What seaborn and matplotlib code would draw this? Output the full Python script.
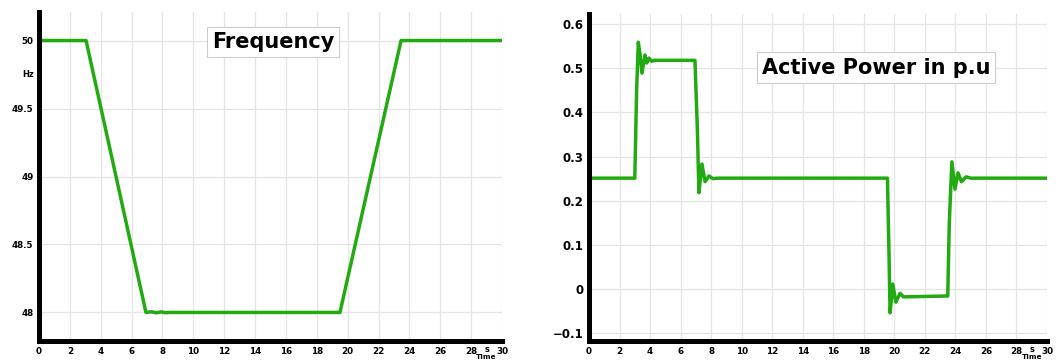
import matplotlib
matplotlib.use("Agg")
import matplotlib.pyplot as plt
import seaborn as sns
import pandas as pd

# ---- data ----
freq_time = [0.0, 3.05, 6.93, 7.3, 7.6, 7.9, 8.2, 8.5, 19.5, 23.46, 30.0]
freq_hz = [50.0, 50.0, 48.0, 48.005, 47.997, 48.004, 47.998, 48.0, 48.0, 50.0, 50.0]

power_time = [0.0, 3.0, 3.12, 3.23, 3.35, 3.47, 3.57, 3.67, 3.78, 3.93, 4.1, 4.3,
              6.94, 7.1, 7.2, 7.3, 7.4, 7.6, 7.86, 8.1, 8.5,
              19.55, 19.65, 19.72, 19.82, 19.9, 20.1, 20.37, 20.6, 23.5,
              23.6, 23.77, 23.97, 24.17, 24.4, 24.7, 25.0, 30.0]
power_pu = [0.251, 0.251, 0.45, 0.559, 0.53, 0.489, 0.51, 0.53, 0.512, 0.523, 0.516, 0.518,
            0.518, 0.36, 0.218, 0.25, 0.283, 0.243, 0.256, 0.25, 0.251,
            0.251, 0.08, -0.054, -0.02, 0.011, -0.03, -0.01, -0.018, -0.016,
            0.15, 0.288, 0.226, 0.263, 0.243, 0.254, 0.251, 0.251]

x_ticks = list(range(0, 31, 2))
freq_ticks = [48, 48.5, 49, 49.5, 50]
freq_tick_labels = ["48", "48.5", "49", "49.5", "50"]
power_ticks = [-0.1, 0, 0.1, 0.2, 0.3, 0.4, 0.5, 0.6]
power_tick_labels = ["\u22120.1", "0", "0.1", "0.2", "0.3", "0.4", "0.5", "0.6"]

GREEN = "#22aa12"

sns.set_style("whitegrid", {"grid.color": "#e4e4e4"})
plt.rcParams["font.family"] = ["DejaVu Sans"]
plt.rcParams["text.color"] = "black"
plt.rcParams["xtick.color"] = "black"
plt.rcParams["ytick.color"] = "black"
plt.rcParams["xtick.labelcolor"] = "black"
plt.rcParams["ytick.labelcolor"] = "black"

fig = plt.figure(figsize=(10.61, 3.61), dpi=100)
ax1 = fig.add_axes([39 / 1061, 20 / 361, 463 / 1061, 329 / 361])
ax2 = fig.add_axes([589 / 1061, 20 / 361, 458 / 1061, 327 / 361])

df_f = pd.DataFrame({"t": freq_time, "f": freq_hz})
df_p = pd.DataFrame({"t": power_time, "p": power_pu})

sns.lineplot(data=df_f, x="t", y="f", ax=ax1, color=GREEN, linewidth=2.5,
             estimator=None, sort=False)
sns.lineplot(data=df_p, x="t", y="p", ax=ax2, color=GREEN, linewidth=2.5,
             estimator=None, sort=False)

for ax in (ax1, ax2):
    ax.set_xlim(0, 30)
    ax.set_xticks(x_ticks)
    ax.set_xticklabels([str(v) for v in x_ticks], fontsize=6.3, fontweight="bold",
                       color="black")
    ax.set_xlabel("")
    ax.set_ylabel("")
    for s in ("top", "right"):
        ax.spines[s].set_visible(False)
    for s in ("left", "bottom"):
        ax.spines[s].set_visible(True)
        ax.spines[s].set_color("black")
        ax.spines[s].set_linewidth(3.6)
    ax.grid(True, color="#e4e4e4", linewidth=0.9)
    ax.tick_params(axis="both", length=0, pad=4)
    ax.set_facecolor("white")
    ax.annotate("s", xy=(29, 0), xycoords=("data", "axes fraction"),
                xytext=(0, -9), textcoords="offset pixels", ha="center", va="center",
                fontsize=6, fontweight="bold", color="black")
    ax.annotate("Time", xy=(29.0, 0), xycoords=("data", "axes fraction"),
                xytext=(0, -16), textcoords="offset pixels", ha="center", va="center",
                fontsize=5.3, fontweight="bold", color="black")

ax1.set_ylim(47.79, 50.21)
ax1.set_yticks(freq_ticks)
ax1.set_yticklabels(freq_tick_labels, fontsize=6.3, fontweight="bold", color="black")
ax1.annotate("Hz", xy=(0, 49.75), xycoords=("axes fraction", "data"),
             xytext=(-5, 0), textcoords="offset pixels", ha="right", va="center",
             fontsize=6, fontweight="bold", color="black")

ax2.set_ylim(-0.118, 0.623)
ax2.set_yticks(power_ticks)
ax2.set_yticklabels(power_tick_labels, fontsize=8.5, fontweight="bold", color="black")

box = dict(boxstyle="square,pad=0.25", facecolor="white", edgecolor="#cccccc", linewidth=0.8)
fig.text(273 / 1061, 1 - 42 / 361, "Frequency", ha="center", va="center",
         fontsize=15, fontweight="heavy", color="black", bbox=box)
fig.text(876 / 1061, 1 - 67.5 / 361, "Active Power in p.u", ha="center", va="center",
         fontsize=15, fontweight="heavy", color="black", bbox=box)

fig.savefig("out.png", dpi=100, facecolor="white")
